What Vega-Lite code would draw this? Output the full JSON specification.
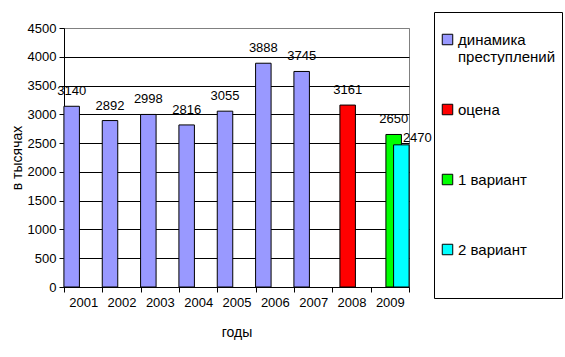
{
  "$schema": "https://vega.github.io/schema/vega-lite/v6.json",
  "width": 345,
  "height": 259,
  "autosize": {"type": "none"},
  "padding": {"left": 64, "top": 28, "right": 156, "bottom": 70},
  "background": "white",
  "data": {
    "values": [
      {"year": "2001", "series": "динамика преступлений", "value": 3140},
      {"year": "2002", "series": "динамика преступлений", "value": 2892},
      {"year": "2003", "series": "динамика преступлений", "value": 2998},
      {"year": "2004", "series": "динамика преступлений", "value": 2816},
      {"year": "2005", "series": "динамика преступлений", "value": 3055},
      {"year": "2006", "series": "динамика преступлений", "value": 3888},
      {"year": "2007", "series": "динамика преступлений", "value": 3745},
      {"year": "2008", "series": "оцена", "value": 3161},
      {"year": "2009", "series": "1 вариант", "value": 2650},
      {"year": "2009", "series": "2 вариант", "value": 2470}
    ]
  },
  "config": {
    "font": "Liberation Sans",
    "view": {"stroke": "#808080", "strokeWidth": 1}
  },
  "encoding": {
    "x": {
      "field": "year",
      "type": "ordinal",
      "title": "годы",
      "scale": {"paddingInner": 0, "paddingOuter": 0},
      "axis": {
        "labelAngle": 0,
        "labelFontSize": 13,
        "labelColor": "black",
        "labelPadding": 4,
        "tickBand": "extent",
        "tickSize": 5,
        "tickColor": "black",
        "domainColor": "black",
        "titleFontSize": 14,
        "titleFontWeight": "normal",
        "titleColor": "black",
        "titlePadding": 16
      }
    },
    "xOffset": {
      "field": "series",
      "scale": {
        "domain": ["динамика преступлений", "оцена", "1 вариант", "2 вариант"],
        "paddingInner": 0,
        "paddingOuter": 0.5
      }
    },
    "y": {
      "field": "value",
      "type": "quantitative",
      "title": "в тысячах",
      "scale": {"domain": [0, 4500]},
      "axis": {
        "values": [0, 500, 1000, 1500, 2000, 2500, 3000, 3500, 4000, 4500],
        "format": "d",
        "grid": true,
        "gridColor": {"condition": {"test": "datum.value == 4500", "value": "#808080"}, "value": "black"},
        "gridOpacity": 1,
        "labelFontSize": 13,
        "labelColor": "black",
        "labelPadding": 3,
        "tickSize": 5,
        "tickColor": "black",
        "domainColor": "black",
        "titleFontSize": 14,
        "titleFontWeight": "normal",
        "titleColor": "black",
        "titlePadding": 3
      }
    }
  },
  "layer": [
    {
      "mark": {"type": "bar", "width": 15.5, "stroke": "black", "strokeWidth": 1},
      "encoding": {
        "color": {
          "field": "series",
          "type": "nominal",
          "scale": {
            "domain": ["динамика преступлений", "оцена", "1 вариант", "2 вариант"],
            "range": ["#9999FF", "#FF0000", "#00FF00", "#00FFFF"]
          },
          "legend": {
            "orient": "none",
            "legendX": 370,
            "legendY": -16,
            "title": " ",
            "titleOrient": "top",
            "titleFontSize": 8,
            "titlePadding": 6,
            "padding": 6,
            "strokeColor": "black",
            "fillColor": "white",
            "symbolType": "square",
            "symbolSize": 110,
            "symbolStrokeColor": "black",
            "symbolStrokeWidth": 1,
            "symbolOpacity": 1,
            "labelFontSize": 15,
            "labelColor": "black",
            "labelOffset": 3,
            "labelLimit": 200,
            "rowPadding": 37,
            "labelExpr": "datum.label == 'динамика преступлений' ? ['динамика', 'преступлений'] : datum.label == '2 вариант' ? [datum.label, '', ''] : [datum.label, '']"
          }
        }
      }
    },
    {
      "transform": [{"filter": "datum.series != '2 вариант'"}],
      "mark": {"type": "text", "dy": -11, "baseline": "alphabetic", "fontSize": 13, "color": "black"},
      "encoding": {"text": {"field": "value", "type": "quantitative", "format": "d"}}
    },
    {
      "transform": [{"filter": "datum.series == '2 вариант'"}],
      "mark": {"type": "text", "dx": 16, "dy": -3, "baseline": "alphabetic", "fontSize": 13, "color": "black"},
      "encoding": {"text": {"field": "value", "type": "quantitative", "format": "d"}}
    }
  ]
}
